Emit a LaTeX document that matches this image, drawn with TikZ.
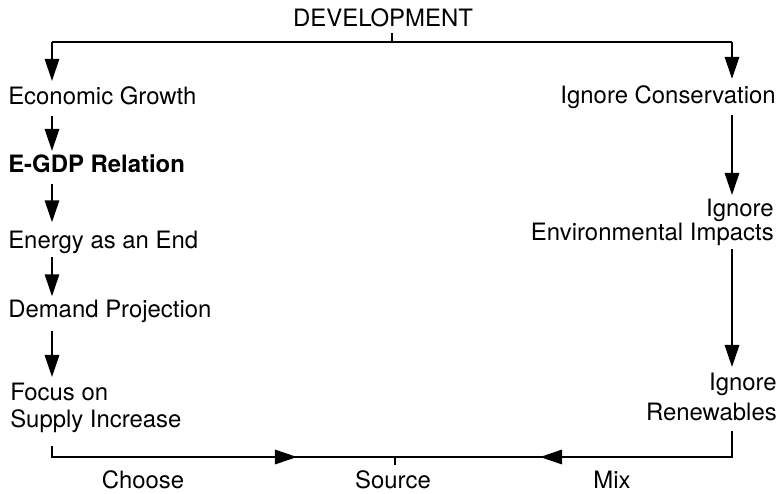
\documentclass[tikz,border=0pt]{standalone}
\usepackage{fontspec}
\setmainfont{TeX Gyre Heros}
\usetikzlibrary{arrows.meta}
\begin{document}
\begin{tikzpicture}[x=0.025cm, y=-0.025cm, >={Triangle[length=0.55cm,width=0.36cm]},
	word/.style={font=\fontsize{17}{20}\selectfont, inner sep=0pt},
	flow/.style={->, line width=1.3pt},
	rail/.style={line width=1.8pt}]
	\useasboundingbox (0,0) rectangle (780,493);
	% texts
	\node[word, anchor=base] (dev) at (383,26) {DEVELOPMENT};
	\node[word, anchor=base west] (econ) at (8,104) {Economic Growth};
	\node[word, anchor=base west] (egdp) at (8,172) {\bfseries E-GDP Relation};
	\node[word, anchor=base west] (end) at (8,248) {Energy as an End};
	\node[word, anchor=base west] (dem) at (8,317) {Demand Projection};
	\node[word, anchor=north west, align=left] (sup) at (10,383) {Focus on\\[-1pt]Supply Increase};
	\node[word, anchor=base east] (cons) at (776,103) {Ignore Conservation};
	\node[word, anchor=north east, align=right] (env) at (774,199) {Ignore\\[-3pt]Environmental Impacts};
	\node[word, anchor=north east, align=right] (ren) at (777,373) {Ignore\\[1pt]Renewables};
	\node[word, anchor=base] (choose) at (143,488) {Choose};
	\node[word, anchor=base] (src) at (393,488) {Source};
	\node[word, anchor=base] (mix) at (612,488) {Mix};
	% top branch
	\coordinate (lcol) at (52,0);
	\coordinate (rcol) at (732,0);
	\coordinate (topl) at (52,42);
	\coordinate (topr) at (732,42);
	\draw[line width=1pt] (topl -| 392,0) -- ++(0,-9);
	\draw[rail] (topl) -- (topr);
	\draw[flow, shorten >=0.125cm] (topl) -- (econ.north -| lcol);
	\draw[flow, shorten >=0.15cm] (topr) -- (cons.north -| rcol);
	% left chain
	\draw[flow, shorten <=0.275cm, shorten >=0.075cm] (econ.south -| lcol) -- (egdp.north -| lcol);
	\draw[flow, shorten <=0.275cm, shorten >=0.2cm] (egdp.south -| lcol) -- (end.north -| lcol);
	\draw[flow, shorten <=0.1cm, shorten >=0.075cm] (end.south -| lcol) -- (dem.north -| lcol);
	\draw[flow, shorten <=0.2cm, shorten >=0.15cm] (dem.south -| lcol) -- (sup.north -| lcol);
	% right chain
	\draw[flow, shorten <=0.175cm, shorten >=0.1cm] (cons.south -| rcol) -- (env.north -| rcol);
	\draw[flow, shorten <=0.075cm, shorten >=0.15cm] (env.south -| rcol) -- (ren.north -| rcol);
	% bottom
	\coordinate (botl) at (52,457);
	\coordinate (botr) at (732,457);
	\coordinate (tipc) at (297,457);
	\coordinate (tipm) at (540,457);
	\draw[rail] ([yshift=-0.325cm]sup.south -| lcol) -- (botl) -- (botr) -- ([yshift=-0.25cm]ren.south -| rcol);
	\draw[flow] (botl) -- (tipc);
	\draw[flow] (botr) -- (tipm);
	\draw[line width=1pt] (botl -| 395,0) -- ++(0,8);
\end{tikzpicture}
\end{document}
